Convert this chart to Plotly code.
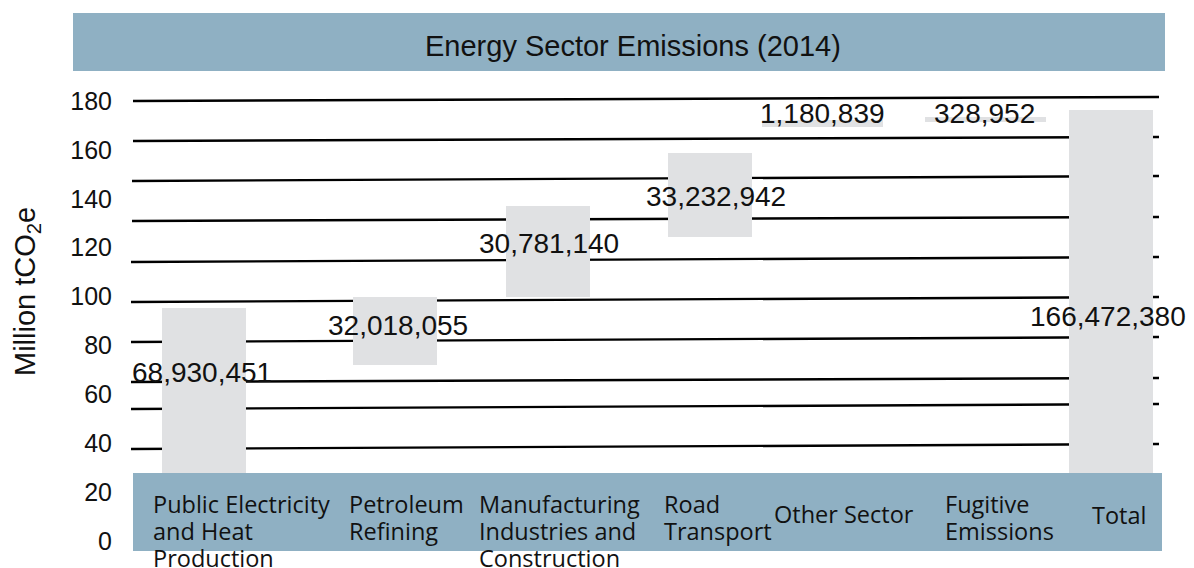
import plotly.graph_objects as go

# ---------------- data ----------------
categories = [
    "Public Electricity and Heat Production",
    "Petroleum Refining",
    "Manufacturing Industries and Construction",
    "Road Transport",
    "Other Sector",
    "Fugitive Emissions",
    "Total",
]
category_labels = [
    ["Public Electricity", "and Heat", "Production"],
    ["Petroleum", "Refining"],
    ["Manufacturing", "Industries and", "Construction"],
    ["Road", "Transport"],
    ["Other Sector"],
    ["Fugitive", "Emissions"],
    ["Total"],
]
# emissions in tCO2e (labels)
emissions_t = [68930451, 32018055, 30781140, 33232942, 1180839, 328952, 166472380]
# bar extents as drawn, read against the left axis (Million tCO2e)
bar_bottom = [0.0, 72.0, 99.8, 124.4, 169.4, 171.5, 0.0]
bar_top = [95.3, 99.8, 137.0, 158.7, 172.2, 173.5, 176.3]
y_ticks = [0, 20, 40, 60, 80, 100, 120, 140, 160, 180]
title_text = "Energy Sector Emissions (2014)"
y_title = "Million tCO<sub>2</sub>e"

# ---------------- layout constants (page pixels) ----------------
OFF = 8                      # browser body margin
W, H = 1194 - OFF, 568 - OFF
PL, PR, PT, PB = 133, 1160, 75, 555   # plot area in page pixels
Y0_PX, Y180_PX = 541, 101
PPU = (Y0_PX - Y180_PX) / 180.0
X0_PX, STEP = 235.0, 149.1

BAND = "#8fb0c3"
BAR = "#e0e1e3"
FONT = "Liberation Sans, Arial, sans-serif"
CAT_FONT = "Open Sans, Liberation Sans, Arial, sans-serif"
CAT_SIZE = 23.5
CAT_LINE = 27


def py(p):  # page pixel y -> data y
    return (Y0_PX - p) / PPU


def pxp(p):  # page pixel x -> paper x
    return (p - PL) / (PR - PL)


def pyp(p):  # page pixel y -> paper y
    return (PB - p) / (PB - PT)


def cx(i):  # category center pixel
    return X0_PX + STEP * i


bar_left_px = [162, 353, 506, 668, 762, 925, 1069]
bar_w_px = [84, 84, 84, 84, 121, 121, 84]
label_cx = [202, 398, 549, 716, 822, 984, 1108]
label_cy = [372, 325, 243, 196, 113, 113, 316]
cat_left_px = [151, 347, 477, 662, 772, 943, 1090]
cat_mid_px = [504, 504, 504, 504, 514, 504, 515]   # centre of first text line

grid_left_px = [101, 141, 181, 221, 262, 302, 342, 382, 409, 449]
grid_right_px = [97, 137, 176, 217, 257, 297, 337, 378, 404, 444]
grid_x0 = [133, 133, 132, 132, 131, 131, 131, 131, 131, 131]
GRID_X1 = 1159

heights = [t - b for t, b in zip(bar_top, bar_bottom)]
offsets = [(l - cx(i)) / STEP for i, l in enumerate(bar_left_px)]
widths = [w / STEP for w in bar_w_px]

fig = go.Figure()
fig.add_trace(go.Bar(
    x=categories, y=heights, base=bar_bottom,
    offset=offsets, width=widths,
    marker=dict(color=BAR, line=dict(width=0)),
    hoverinfo="skip", showlegend=False,
))

shapes = []
for x0, yl, yr in zip(grid_x0, grid_left_px, grid_right_px):
    shapes.append(dict(type="line", xref="paper", yref="y",
                       x0=pxp(x0), x1=pxp(GRID_X1), y0=py(yl), y1=py(yr),
                       line=dict(color="black", width=2.4), layer="below"))
# title band
shapes.append(dict(type="rect", xref="paper", yref="paper",
                   x0=pxp(73), x1=pxp(1165), y0=pyp(71), y1=pyp(13),
                   fillcolor=BAND, line=dict(width=0), layer="above"))
# category band
shapes.append(dict(type="rect", xref="paper", yref="paper",
                   x0=pxp(133), x1=pxp(1162), y0=pyp(551), y1=pyp(473),
                   fillcolor=BAND, line=dict(width=0), layer="above"))

annotations = []
annotations.append(dict(text=title_text, xref="paper", yref="paper",
                        x=pxp(633), y=pyp(46), xanchor="center", yanchor="middle",
                        showarrow=False,
                        font=dict(family=FONT, size=29, color="#111")))
annotations.append(dict(text=y_title, xref="paper", yref="paper",
                        x=pxp(27), y=pyp(292), xanchor="center", yanchor="middle",
                        textangle=-90, showarrow=False,
                        font=dict(family=FONT, size=29, color="#111")))
for i, v in enumerate(emissions_t):
    annotations.append(dict(text=f"{v:,}", xref="x", yref="y",
                            x=categories[i], y=py(label_cy[i]),
                            xshift=label_cx[i] - cx(i),
                            xanchor="center", yanchor="middle", showarrow=False,
                            font=dict(family=FONT, size=28, color="#111")))
for i, lines in enumerate(category_labels):
    for k, line in enumerate(lines):
        annotations.append(dict(text=line, xref="paper", yref="paper",
                                x=pxp(cat_left_px[i]),
                                y=pyp(cat_mid_px[i] + k * CAT_LINE),
                                xanchor="left", yanchor="middle", align="left",
                                showarrow=False,
                                font=dict(family=CAT_FONT, size=CAT_SIZE, color="#111")))

fig.update_layout(
    width=W, height=H,
    margin=dict(l=PL - OFF, r=(W + OFF) - PR, t=PT - OFF, b=(H + OFF) - PB, pad=0),
    paper_bgcolor="white", plot_bgcolor="white",
    shapes=shapes, annotations=annotations,
    bargap=0,
    xaxis=dict(type="category", range=[(PL - X0_PX) / STEP, (PR - X0_PX) / STEP],
               showticklabels=False, showgrid=False, zeroline=False,
               showline=False, ticks=""),
    yaxis=dict(range=[py(PB), py(PT)], tickvals=y_ticks,
               ticktext=[str(t) for t in y_ticks],
               showgrid=False, zeroline=False, showline=False, ticks="",
               ticklabelstandoff=20,
               tickfont=dict(family=FONT, size=25, color="#111")),
)

fig.write_html("out.html")
